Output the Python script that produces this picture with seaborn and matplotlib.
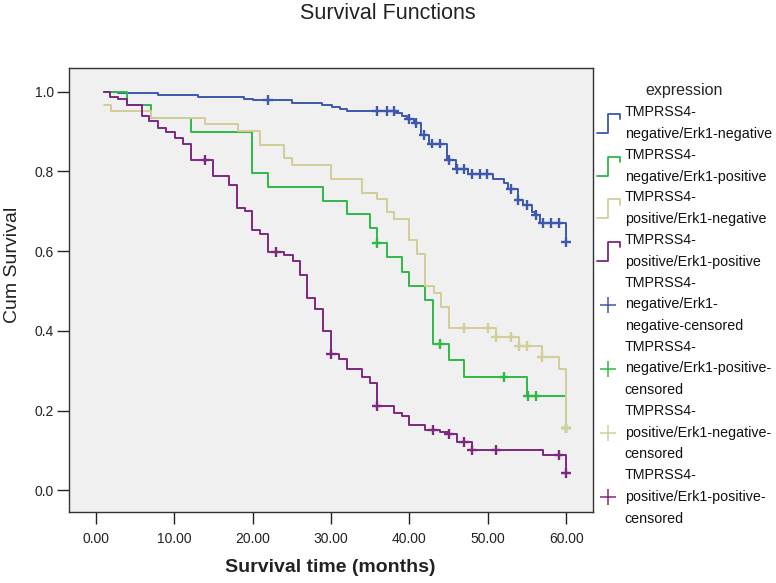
import numpy as np
import pandas as pd
import matplotlib
matplotlib.use("Agg")
import matplotlib.pyplot as plt
from matplotlib.lines import Line2D
from matplotlib.legend_handler import HandlerBase
import seaborn as sns

# ---------- DATA ----------
GROUPS = [
    "TMPRSS4-\nnegative/Erk1-negative",
    "TMPRSS4-\nnegative/Erk1-positive",
    "TMPRSS4-\npositive/Erk1-negative",
    "TMPRSS4-\npositive/Erk1-positive",
]
CENSOR_LABELS = [
    "TMPRSS4-\nnegative/Erk1-\nnegative-censored",
    "TMPRSS4-\nnegative/Erk1-positive-\ncensored",
    "TMPRSS4-\npositive/Erk1-negative-\ncensored",
    "TMPRSS4-\npositive/Erk1-positive-\ncensored",
]
COLORS = ["#3E58AC", "#2EB848", "#D3CE97", "#7C287D"]

# step points: time (months) and cumulative survival after the step
nn_time = [1.1, 2.9, 8.0, 13.1, 18.9, 20.1, 25.0, 28.8, 30.1, 31.2, 32.1, 38.3,
           39.1, 39.7, 40.6, 41.5, 42.5, 44.8, 45.9, 47.5, 50.7, 52.0, 52.6,
           53.8, 54.5, 55.6, 56.0, 56.7, 60.0]
nn_surv = [1.0, 0.996, 0.993, 0.988, 0.983, 0.979, 0.973, 0.968, 0.962, 0.957,
           0.952, 0.946, 0.940, 0.931, 0.921, 0.891, 0.870, 0.829, 0.806, 0.793,
           0.781, 0.770, 0.756, 0.728, 0.716, 0.699, 0.690, 0.671, 0.623]
nn_cens = [22.0, 35.9, 37.1, 38.0, 39.9, 40.8, 41.8, 42.9, 43.9, 45.0, 46.1,
           47.0, 48.0, 49.0, 49.9, 52.9, 53.9, 55.0, 56.1, 57.0, 58.0, 59.0, 60.0]

np_time = [1.1, 4.0, 7.1, 12.1, 19.9, 22.0, 29.0, 32.1, 35.0, 35.8, 37.1, 39.1,
           40.0, 42.0, 43.0, 45.0, 47.0, 55.0, 60.0]
np_surv = [1.0, 0.967, 0.933, 0.898, 0.795, 0.762, 0.726, 0.692, 0.657, 0.620,
           0.586, 0.548, 0.513, 0.477, 0.366, 0.326, 0.285, 0.237, 0.155]
np_cens = [35.9, 43.9, 52.0, 55.1, 56.1, 60.0]

pn_time = [1.1, 2.0, 7.0, 14.0, 18.1, 21.0, 24.0, 25.0, 30.0, 34.0, 35.9, 37.1,
           38.0, 39.9, 41.0, 42.0, 43.1, 44.0, 45.0, 51.0, 54.0, 56.9, 59.0, 60.0]
pn_surv = [0.967, 0.953, 0.935, 0.918, 0.901, 0.867, 0.834, 0.816, 0.781, 0.747,
           0.731, 0.699, 0.680, 0.628, 0.594, 0.512, 0.494, 0.459, 0.408, 0.385,
           0.362, 0.335, 0.305, 0.155]
pn_cens = [47.0, 50.0, 51.0, 53.0, 54.0, 55.0, 56.9, 60.0]

pp_time = [1.1, 1.85, 2.9, 4.0, 5.9, 6.8, 7.9, 9.0, 10.1, 11.1, 12.1, 14.9, 17.0,
           18.0, 19.1, 19.9, 21.0, 22.0, 24.0, 25.1, 26.0, 27.0, 28.0, 29.0,
           30.0, 31.0, 32.0, 34.0, 35.0, 35.9, 38.0, 39.1, 40.0, 42.0, 43.9,
           45.0, 46.1, 48.0, 57.0, 60.0]
pp_surv = [1.0, 0.987, 0.981, 0.968, 0.940, 0.926, 0.908, 0.898, 0.885, 0.869,
           0.829, 0.788, 0.766, 0.709, 0.700, 0.653, 0.644, 0.598, 0.590, 0.576,
           0.540, 0.483, 0.454, 0.399, 0.341, 0.329, 0.305, 0.285, 0.268, 0.211,
           0.194, 0.187, 0.163, 0.151, 0.146, 0.141, 0.121, 0.100, 0.088, 0.043]
pp_cens = [14.0, 23.0, 30.0, 35.9, 43.0, 45.0, 47.0, 48.0, 51.0, 59.0, 60.0]

x_ticks = [0, 10, 20, 30, 40, 50, 60]
y_ticks = [0.0, 0.2, 0.4, 0.6, 0.8, 1.0]

# ---------- BUILD LONG TABLES ----------
series = [(nn_time, nn_surv, nn_cens), (np_time, np_surv, np_cens),
          (pn_time, pn_surv, pn_cens), (pp_time, pp_surv, pp_cens)]

curve_rows, cens_rows = [], []
for g, (t, s, c) in zip(GROUPS, series):
    t, s = np.asarray(t), np.asarray(s)
    for ti, si in zip(t, s):
        curve_rows.append((g, ti, si))
    # censored marks sit on the curve at their time
    idx = np.searchsorted(t, c, side="right") - 1
    for ci, si in zip(c, s[idx]):
        cens_rows.append((g, ci, si))
curves = pd.DataFrame(curve_rows, columns=["expression", "time", "surv"])
cens = pd.DataFrame(cens_rows, columns=["expression", "time", "surv"])
palette = dict(zip(GROUPS, COLORS))

# ---------- PLOT ----------
sns.set_theme(style="ticks")
plt.rcParams["font.family"] = ["Liberation Sans", "DejaVu Sans"]

fig = plt.figure(figsize=(7.76, 5.83), dpi=100)
ax = fig.add_axes([0.0889, 0.1223, 0.6753, 0.7606])
ax.set_facecolor("#F0F0F0")

sns.lineplot(data=curves, x="time", y="surv", hue="expression", palette=palette,
             estimator=None, drawstyle="steps-post", linewidth=1.4,
             legend=False, ax=ax)
sns.scatterplot(data=cens, x="time", y="surv", hue="expression", palette=palette,
                marker="+", s=50, linewidth=1.7, legend=False, ax=ax, zorder=3)

ax.set_xlim(-3.4, 63.4)
ax.set_ylim(-0.054, 1.059)
ax.set_xticks(x_ticks)
ax.set_xticklabels([f"{v:.2f}" for v in x_ticks])
ax.set_yticks(y_ticks)
ax.set_yticklabels([f"{v:.1f}" for v in y_ticks])
ax.tick_params(axis="both", length=8.5, width=1.0, color="#222222",
               labelsize=10, labelcolor="#222222")
ax.tick_params(axis="x", pad=6)
ax.tick_params(axis="y", pad=2.5)
for sp in ax.spines.values():
    sp.set_visible(True)
    sp.set_color("#333333")
    sp.set_linewidth(1.0)
ax.set_xlabel("")
ax.set_ylabel("")

fig.text(0.5, 0.977, "Survival Functions", ha="center", va="center",
         fontsize=15.5, color="#222222")
fig.text(0.425, 0.026, "Survival time (months)", ha="center", va="center",
         fontsize=14, fontweight="bold", color="#222222")
fig.text(0.016, 1 - 265 / 583, "Cum Survival", ha="center", va="center",
         rotation=90, fontsize=14, color="#222222")


# step-shaped legend handle like SPSS
class StepHandler(HandlerBase):
    def create_artists(self, legend, orig_handle, xdescent, ydescent,
                       width, height, fontsize, trans):
        h = height * 1.9
        y0 = -ydescent + height / 2 - h / 2
        x0 = -xdescent
        xs = [x0, x0 + width * 0.5, x0 + width * 0.5, x0 + width, x0 + width]
        ys = [y0, y0, y0 + h, y0 + h, y0 + h * 0.72]
        ln = Line2D(xs, ys, color=orig_handle.get_color(), linewidth=1.3,
                    transform=trans)
        return [ln]


step_handles = [Line2D([], [], color=c) for c in COLORS]
cens_handles = [Line2D([], [], color=c, marker="+", linestyle="none",
                       markersize=11, markeredgewidth=1.1) for c in COLORS]

leg = fig.legend(step_handles + cens_handles, GROUPS + CENSOR_LABELS,
                 title="expression", loc="upper left",
                 bbox_to_anchor=(0.769, 0.857), frameon=False,
                 fontsize=10.3, title_fontsize=11.5, handlelength=1.6,
                 handletextpad=0.35, labelspacing=0.48, borderpad=0,
                 borderaxespad=0,
                 handler_map={h: StepHandler() for h in step_handles})
for t in leg.get_texts():
    t.set_linespacing(1.7)
    t.set_color("#111111")

fig.savefig("out.png", dpi=100)
